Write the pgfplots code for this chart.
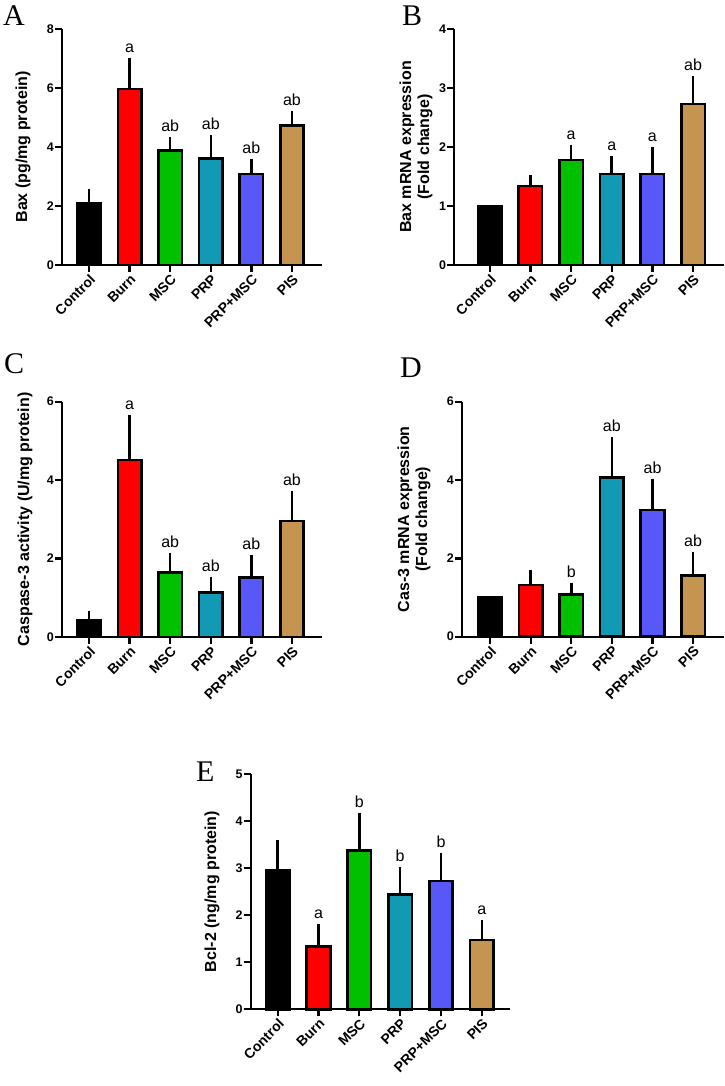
\documentclass[border=0pt]{standalone}
\usepackage{fontspec}
\setmainfont{Liberation Sans}[BoldFont={Liberation Sans Bold}]
\newfontfamily\panelfont{Liberation Serif}
\usepackage{pgfplots}
\pgfplotsset{compat=1.18}
\definecolor{cCtl}{RGB}{0,0,0}
\definecolor{cBurn}{RGB}{255,0,0}
\definecolor{cMSC}{RGB}{0,192,0}
\definecolor{cPRP}{RGB}{18,154,181}
\definecolor{cPM}{RGB}{88,88,248}
\definecolor{cPIS}{RGB}{196,148,80}
\pgfplotsset{
  panel/.style={
    scale only axis, clip=false,
    axis x line*=bottom, axis y line*=left,
    axis line style={line width=2.3pt,-},
    ymin=0,
    xtick={0,1,2,3,4,5},
    xticklabels={Control,Burn,MSC,PRP,PRP+MSC,PIS},
    tick align=outside, major tick length=7pt,
    every tick/.style={line width=2.3pt, black},
    x tick label style={rotate=45, anchor=north east, font=\bfseries\fontsize{14}{14}\selectfont, inner sep=1pt},
    y tick label style={font=\bfseries\fontsize{12.5}{12.5}\selectfont, inner sep=1pt},
    /pgf/number format/assume math mode=true,
    ylabel style={anchor=center, font=\bfseries\fontsize{16}{18}\selectfont, align=center},
    bar width=23.5pt, bar shift=0pt,
    error bars/y dir=plus, error bars/y explicit,
    error bars/error bar style={line width=2.5pt, black},
    error bars/error mark options={line width=2.5pt, mark size=5.5pt, black},
  },
  bb/.style={ybar, fill=#1, draw=black, line width=2.6pt},
  lab/.style={draw=none, mark=none, nodes near coords, point meta=explicit symbolic,
    every node near coord/.style={anchor=base, yshift=11pt, font=\fontsize{16}{16}\selectfont, black}},
}
\begin{document}
\begin{tikzpicture}[x=1pt,y=1pt]
\path[use as bounding box] (0,0) rectangle (724,1086);
% Panel letters
\node[anchor=base west, inner sep=0pt, font=\panelfont\fontsize{30}{30}\selectfont] at (3,1060) {A};
\node[anchor=base west, inner sep=0pt, font=\panelfont\fontsize{30}{30}\selectfont] at (402,1060) {B};
\node[anchor=base west, inner sep=0pt, font=\panelfont\fontsize{30}{30}\selectfont] at (4,712) {C};
\node[anchor=base west, inner sep=0pt, font=\panelfont\fontsize{30}{30}\selectfont] at (400,708.5) {D};
\node[anchor=base west, inner sep=0pt, font=\panelfont\fontsize{30}{30}\selectfont] at (196,304) {E};

% A
\begin{axis}[panel, at={(62pt,821pt)}, anchor=south west, width=260pt, height=236pt,
  xmin=-0.665, xmax=5.74, ymax=8, ytick={0,2,4,6,8},
  ylabel={Bax (pg/mg protein)}, ylabel style={at={(axis description cs:-0.150,0.5)}}]
\addplot[bb=cCtl] coordinates {(0,2.09) +- (0,0.29)};
\addplot[bb=cBurn] coordinates {(1,5.96) +- (0,0.88)};
\addplot[bb=cMSC] coordinates {(2,3.89) +- (0,0.26)};
\addplot[bb=cPRP] coordinates {(3,3.60) +- (0,0.61)};
\addplot[bb=cPM] coordinates {(4,3.08) +- (0,0.32)};
\addplot[bb=cPIS] coordinates {(5,4.72) +- (0,0.31)};
\addplot[lab] table[meta=l] {
x y l
1 6.84 a
2 4.15 ab
3 4.21 ab
4 3.40 ab
5 5.03 ab
};
\end{axis}

% B
\begin{axis}[panel, at={(454.3pt,821pt)}, anchor=south west, width=269.7pt, height=236pt,
  xmin=-0.87, xmax=5.76, ymax=4, ytick={0,1,2,3,4},
  ylabel={Bax mRNA expression\\(Fold change)}, ylabel style={at={(axis description cs:-0.142,0.5)}}]
\addplot[bb=cCtl, error bars/y dir=none] coordinates {(0,1.0)};
\addplot[bb=cBurn] coordinates {(1,1.34) +- (0,0.09)};
\addplot[bb=cMSC] coordinates {(2,1.78) +- (0,0.16)};
\addplot[bb=cPRP] coordinates {(3,1.54) +- (0,0.21)};
\addplot[bb=cPM] coordinates {(4,1.54) +- (0,0.36)};
\addplot[bb=cPIS] coordinates {(5,2.73) +- (0,0.38)};
\addplot[lab] table[meta=l] {
x y l
2 1.94 a
3 1.75 a
4 1.90 a
5 3.11 ab
};
\end{axis}

% C
\begin{axis}[panel, at={(62pt,449pt)}, anchor=south west, width=260pt, height=235.3pt,
  xmin=-0.665, xmax=5.74, ymax=6, ytick={0,2,4,6},
  ylabel={Caspase-3 activity (U/mg protein)}, ylabel style={at={(axis description cs:-0.142,0.5)}}]
\addplot[bb=cCtl] coordinates {(0,0.43) +- (0,0.10)};
\addplot[bb=cBurn] coordinates {(1,4.51) +- (0,1.00)};
\addplot[bb=cMSC] coordinates {(2,1.64) +- (0,0.37)};
\addplot[bb=cPRP] coordinates {(3,1.14) +- (0,0.25)};
\addplot[bb=cPM] coordinates {(4,1.51) +- (0,0.45)};
\addplot[bb=cPIS] coordinates {(5,2.96) +- (0,0.61)};
\addplot[lab] table[meta=l] {
x y l
1 5.51 a
2 2.01 ab
3 1.39 ab
4 1.96 ab
5 3.57 ab
};
\end{axis}

% D
\begin{axis}[panel, at={(462pt,449.3pt)}, anchor=south west, width=262pt, height=235pt,
  xmin=-0.69, xmax=5.76, ymax=6, ytick={0,2,4,6},
  ylabel={Cas-3 mRNA expression\\(Fold change)}, ylabel style={at={(axis description cs:-0.183,0.5)}}]
\addplot[bb=cCtl, error bars/y dir=none] coordinates {(0,1.0)};
\addplot[bb=cBurn] coordinates {(1,1.32) +- (0,0.25)};
\addplot[bb=cMSC] coordinates {(2,1.08) +- (0,0.16)};
\addplot[bb=cPRP] coordinates {(3,4.07) +- (0,0.88)};
\addplot[bb=cPM] coordinates {(4,3.23) +- (0,0.66)};
\addplot[bb=cPIS] coordinates {(5,1.57) +- (0,0.46)};
\addplot[lab] table[meta=l] {
x y l
2 1.24 b
3 4.95 ab
4 3.89 ab
5 2.03 ab
};
\end{axis}

% E
\begin{axis}[panel, at={(250.7pt,76.7pt)}, anchor=south west, width=259.3pt, height=235.3pt,
  xmin=-0.66, xmax=5.69, ymax=5, ytick={0,1,2,3,4,5},
  ylabel={Bcl-2 (ng/mg protein)}, ylabel style={at={(axis description cs:-0.149,0.5)}}]
\addplot[bb=cCtl] coordinates {(0,2.95) +- (0,0.53)};
\addplot[bb=cBurn] coordinates {(1,1.33) +- (0,0.37)};
\addplot[bb=cMSC] coordinates {(2,3.37) +- (0,0.68)};
\addplot[bb=cPRP] coordinates {(3,2.44) +- (0,0.46)};
\addplot[bb=cPM] coordinates {(4,2.73) +- (0,0.48)};
\addplot[bb=cPIS] coordinates {(5,1.47) +- (0,0.32)};
\addplot[lab] table[meta=l] {
x y l
1 1.70 a
2 4.05 b
3 2.90 b
4 3.21 b
5 1.79 a
};
\end{axis}
\end{tikzpicture}
\end{document}
